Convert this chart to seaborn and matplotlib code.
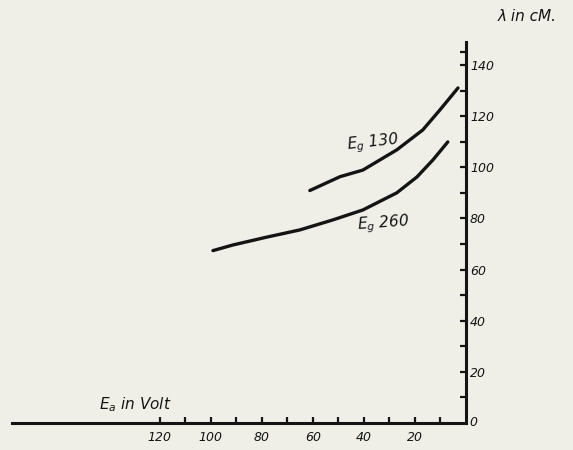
import matplotlib
matplotlib.use("Agg")
import matplotlib.pyplot as plt
import seaborn as sns
import pandas as pd
import numpy as np

# Data (E_a in Volt, wavelength lambda in cm)
ea_260 = [99.2, 91.4, 78.0, 65.1, 52.2, 40.4, 27.1, 19.2, 12.9, 7.1]
lam_260 = [67.4, 69.6, 72.7, 75.5, 79.4, 83.3, 90.0, 96.2, 102.9, 109.9]
ea_130 = [61.2, 49.4, 40.4, 27.1, 16.9, 10.2, 3.1]
lam_130 = [90.9, 96.3, 98.9, 106.8, 114.6, 122.4, 131.0]

x_major = [120, 100, 80, 60, 40, 20]
x_minor = [110, 90, 70, 50, 30, 10]
y_major = [20, 40, 60, 80, 100, 120, 140]
y_minor = [10, 30, 50, 70, 90, 110, 130, 145]

df = pd.DataFrame({
    "Ea": ea_260 + ea_130,
    "lam": lam_260 + lam_130,
    "series": ["260"] * len(ea_260) + ["130"] * len(ea_130),
})

sns.set_theme(style="white")
bg = "#efefe7"
ink = "#141414"
fig = plt.figure(figsize=(5.73, 4.5), dpi=100, facecolor=bg)
ax = fig.add_axes([0, 0, 1, 1])
ax.set_facecolor(bg)

sns.lineplot(data=df, x="Ea", y="lam", hue="series",
             palette={"260": ink, "130": ink}, linewidth=2.4,
             legend=False, ax=ax, estimator=None, sort=True)

ax.set_xlim(182.7, -42.0)
ax.set_ylim(-10.56, 165.4)

for s in ["left", "top"]:
    ax.spines[s].set_visible(False)
ax.spines["right"].set_position(("data", 0))
ax.spines["bottom"].set_position(("data", 0))
ax.spines["right"].set_bounds(0, 149)
ax.spines["bottom"].set_bounds(0, 178)
for s in ["right", "bottom"]:
    ax.spines[s].set_color(ink)
    ax.spines[s].set_linewidth(2.2)

ax.yaxis.tick_right()
ax.set_xticks(x_major)
ax.set_xticks(x_minor, minor=True)
ax.set_yticks(y_major)
ax.set_yticks(y_minor, minor=True)
ax.set_xticklabels([str(v) for v in x_major], fontstyle="italic", fontsize=9)
ax.set_yticklabels([str(v) for v in y_major], fontstyle="italic", fontsize=9)
ax.tick_params(axis="x", which="both", direction="in", length=4, width=1.6,
               color=ink, labelcolor=ink, pad=6, bottom=True)
ax.tick_params(axis="y", which="both", direction="in", length=4, width=1.6,
               color=ink, labelcolor=ink, pad=3, right=True, left=False)
ax.set_xlabel("")
ax.set_ylabel("")
ax.grid(False)

ax.text(-1.5, 0, "0", fontsize=9, fontstyle="italic", color=ink,
        ha="left", va="center")
ax.text(129.8, 7, r"$E_a$ in Volt", fontsize=11, fontstyle="italic",
        color=ink, ha="center", va="center")
ax.text(36.5, 109.5, r"$E_g$ 130", fontsize=11, fontstyle="italic",
        color=ink, ha="center", va="center", rotation=6)
ax.text(32.5, 78.0, r"$E_g$ 260", fontsize=11, fontstyle="italic",
        color=ink, ha="center", va="center", rotation=4)
ax.text(-23.9, 159, "λ in cM.", fontsize=11, fontstyle="italic",
        color=ink, ha="center", va="center")

fig.savefig("out.png", dpi=100, facecolor=bg)
